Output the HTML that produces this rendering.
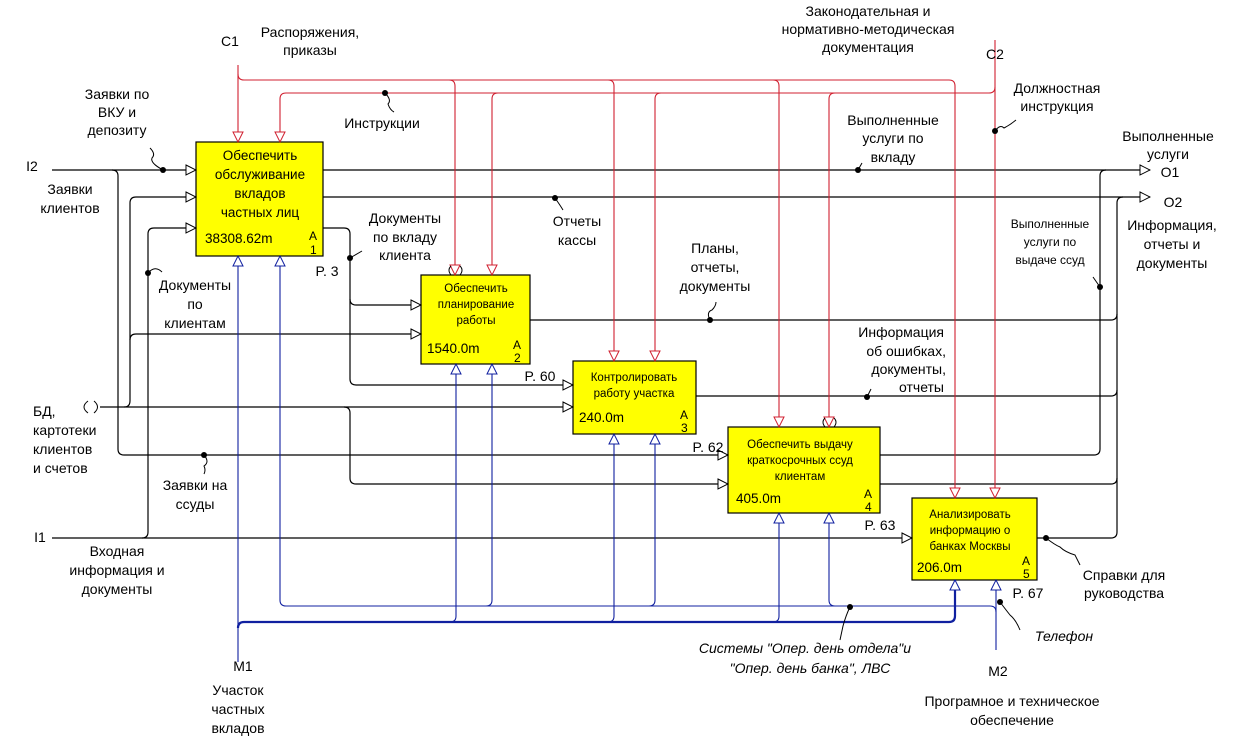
<!DOCTYPE html>
<html><head><meta charset="utf-8"><style>
html,body{margin:0;padding:0;background:#fff;}
svg{display:block;font-family:"Liberation Sans",Arial,sans-serif;}
.t{font-size:14px;fill:#000;}
.s{font-size:12px;fill:#000;}
.b{font-size:13.5px;fill:#000;}
.bs{font-size:11.5px;fill:#000;}
.i{font-size:14px;font-style:italic;fill:#000;}
</style></head><body>
<svg width="1234" height="744" viewBox="0 0 1234 744" xmlns="http://www.w3.org/2000/svg">
<defs>
<marker id="ak" markerWidth="12" markerHeight="12" refX="11" refY="6" orient="auto" markerUnits="userSpaceOnUse"><path d="M1,1 L11,6 L1,11 Z" fill="#fff" stroke="#000" stroke-width="1"/></marker>
<marker id="ar" markerWidth="12" markerHeight="12" refX="11" refY="6" orient="auto" markerUnits="userSpaceOnUse"><path d="M1,1 L11,6 L1,11 Z" fill="#fff" stroke="#d02030" stroke-width="1"/></marker>
<marker id="ab" markerWidth="12" markerHeight="12" refX="11" refY="6" orient="auto" markerUnits="userSpaceOnUse"><path d="M1,1 L11,6 L1,11 Z" fill="#fff" stroke="#1020a0" stroke-width="1"/></marker>
</defs>

<!-- boxes -->
<g fill="#ffff00" stroke="#000" stroke-width="1.2">
<rect x="196" y="142" width="127" height="114"/>
<rect x="421" y="275" width="109" height="89"/>
<rect x="573" y="361" width="123" height="73"/>
<rect x="728" y="427" width="152" height="86"/>
<rect x="912" y="498" width="125" height="82"/>
</g>

<!-- black connectors -->
<g fill="none" stroke="#000" stroke-width="1.2">
<path d="M52 170 H196" marker-end="url(#ak)"/>
<path d="M323 170 H1150" marker-end="url(#ak)"/>
<path d="M323 197 H1150" marker-end="url(#ak)"/>
<path d="M112 170 Q118 170 118 176 V449 Q118 455 124 455 H728" marker-end="url(#ak)"/>
<path d="M124 407 Q130 407 130 401 V203 Q130 197 136 197 H196" marker-end="url(#ak)"/>
<path d="M130 340 Q130 334 136 334 H421" marker-end="url(#ak)"/>
<path d="M142 538 Q148 538 148 532 V234 Q148 228 154 228 H196" marker-end="url(#ak)"/>
<path d="M100 407 H573" marker-end="url(#ak)"/>
<path d="M344 407 Q350 407 350 413 V478 Q350 484 356 484 H728" marker-end="url(#ak)"/>
<path d="M323 228 H344 Q350 228 350 234 V379 Q350 385 356 385 H573" marker-end="url(#ak)"/>
<path d="M350 299 Q350 305 356 305 H421" marker-end="url(#ak)"/>
<path d="M52 538 H912" marker-end="url(#ak)"/>
<path d="M530 320 H1111 Q1117 320 1117 314"/>
<path d="M696 396 H1111 Q1117 396 1117 390"/>
<path d="M880 455 H1094 Q1100 455 1100 449 V176 Q1100 170 1106 170"/>
<path d="M880 484 H1111 Q1117 484 1117 478"/>
<path d="M1037 538 H1111 Q1117 538 1117 532 V203 Q1117 197 1123 197"/>
</g>

<!-- red controls -->
<g fill="none" stroke="#d02030" stroke-width="1.1">
<path d="M238 65 V142" marker-end="url(#ar)"/>
<path d="M238 74 Q238 80 244 80 H949 Q955 80 955 86 V498" marker-end="url(#ar)"/>
<path d="M449 80 Q455 80 455 86 V275" marker-end="url(#ar)"/>
<path d="M608 80 Q614 80 614 86 V361" marker-end="url(#ar)"/>
<path d="M773 80 Q779 80 779 86 V427" marker-end="url(#ar)"/>
<path d="M995 40 V498" marker-end="url(#ar)"/>
<path d="M995 87 Q995 93 989 93 H286 Q280 93 280 99 V142" marker-end="url(#ar)"/>
<path d="M498 93 Q492 93 492 99 V275" marker-end="url(#ar)"/>
<path d="M661 93 Q655 93 655 99 V361" marker-end="url(#ar)"/>
<path d="M835 93 Q829 93 829 99 V427" marker-end="url(#ar)"/>
</g>

<!-- blue mechanisms -->
<g fill="none" stroke="#1020a0" stroke-width="1.1">
<path d="M238 662 V256" marker-end="url(#ab)"/>
<path d="M238 628 Q238 622 244 622 H949 Q955 622 955 616 V580" marker-end="url(#ab)" stroke-width="2.2"/>
<path d="M450 622 Q456 622 456 616 V364" marker-end="url(#ab)"/>
<path d="M608 622 Q614 622 614 616 V434" marker-end="url(#ab)"/>
<path d="M773 622 Q779 622 779 616 V513" marker-end="url(#ab)"/>
<path d="M996 650 V580" marker-end="url(#ab)"/>
<path d="M996 612 Q996 606 990 606 H286 Q280 606 280 600 V256" marker-end="url(#ab)"/>
<path d="M486 606 Q492 606 492 600 V364" marker-end="url(#ab)"/>
<path d="M649 606 Q655 606 655 600 V434" marker-end="url(#ab)"/>
<path d="M835 606 Q829 606 829 600 V513" marker-end="url(#ab)"/>
</g>

<!-- dots -->
<g fill="#000">
<circle cx="163" cy="170" r="3"/><circle cx="385" cy="93" r="3"/><circle cx="555" cy="198" r="3"/>
<circle cx="350" cy="258" r="3"/><circle cx="148" cy="273" r="3"/><circle cx="858" cy="170" r="3"/>
<circle cx="995" cy="131" r="3"/><circle cx="1100" cy="287" r="3"/><circle cx="710" cy="320" r="3"/>
<circle cx="867" cy="397" r="3"/><circle cx="204" cy="455" r="3"/><circle cx="1046" cy="538" r="3"/>
<circle cx="850" cy="607" r="3"/><circle cx="1000" cy="602" r="3"/>
</g>

<!-- leader squiggles -->
<g fill="none" stroke="#000" stroke-width="1">
<path d="M150 148 Q156 154 152 158 Q150 163 163 170"/>
<path d="M385 93 Q392 100 388 104 Q390 110 394 112"/>
<path d="M555 198 Q560 205 563 210"/>
<path d="M350 258 L362 251"/>
<path d="M148 273 Q155 265 162 272"/>
<path d="M858 170 L862 163"/>
<path d="M995 131 Q1000 124 1004 128 Q1010 125 1016 120"/>
<path d="M1100 287 L1093 277"/>
<path d="M710 320 Q706 312 712 310 Q716 306 716 302"/>
<path d="M867 397 L871 389"/>
<path d="M204 455 Q210 462 204 466 Q206 470 204 474"/>
<path d="M1046 538 Q1055 545 1060 547 Q1065 552 1075 555 L1080 565"/>
<path d="M850 607 Q846 615 843 626 L840 640"/>
<path d="M1000 602 Q1006 610 1010 615 Q1016 620 1020 630"/>
<path d="M88 401 Q80 407 88 413 M94 401 Q101 407 94 413" />
<path d="M451 266 Q447 270 451 275 M460 266 Q464 270 460 275"/>
<path d="M825 418 Q821 422 825 427 M834 418 Q838 422 834 427"/>
</g>

<!-- box texts -->
<g text-anchor="middle">
<text class="b" x="260" y="160">Обеспечить</text>
<text class="b" x="260" y="179">обслуживание</text>
<text class="b" x="260" y="198">вкладов</text>
<text class="b" x="260" y="217">частных лиц</text>
<text class="bs" x="476" y="292">Обеспечить</text>
<text class="bs" x="476" y="308">планирование</text>
<text class="bs" x="476" y="324">работы</text>
<text class="bs" x="634" y="381">Контролировать</text>
<text class="bs" x="634" y="397">работу участка</text>
<text class="bs" x="800" y="448">Обеспечить выдачу</text>
<text class="bs" x="800" y="464">краткосрочных ссуд</text>
<text class="bs" x="800" y="480">клиентам</text>
<text class="bs" x="970" y="518">Анализировать</text>
<text class="bs" x="970" y="534">информацию о</text>
<text class="bs" x="970" y="550">банках Москвы</text>
</g>
<text class="b" x="205" y="243">38308.62m</text>
<text class="s" x="309" y="240" font-size="10">A</text><text class="s" x="310" y="254" font-size="10">1</text>
<text class="b" x="427" y="353">1540.0m</text>
<text class="s" x="513" y="349" font-size="10">A</text><text class="s" x="514" y="362" font-size="10">2</text>
<text class="b" x="579" y="422">240.0m</text>
<text class="s" x="680" y="419" font-size="10">A</text><text class="s" x="681" y="432" font-size="10">3</text>
<text class="b" x="736" y="503">405.0m</text>
<text class="s" x="864" y="498" font-size="10">A</text><text class="s" x="865" y="511" font-size="10">4</text>
<text class="b" x="917" y="572">206.0m</text>
<text class="s" x="1022" y="565" font-size="10">A</text><text class="s" x="1023" y="578" font-size="10">5</text>

<!-- labels -->
<g class="t" text-anchor="middle">
<text x="230" y="46">C1</text>
<text x="310" y="37">Распоряжения,</text><text x="310" y="55">приказы</text>
<text x="868" y="16">Законодательная и</text>
<text x="868" y="34">нормативно-методическая</text>
<text x="868" y="52">документация</text>
<text x="995" y="59">C2</text>
<text x="1057" y="93">Должностная</text><text x="1057" y="111">инструкция</text>
<text x="117" y="99">Заявки по</text><text x="117" y="117">ВКУ и</text><text x="117" y="135">депозиту</text>
<text x="382" y="128">Инструкции</text>
<text x="32" y="171">I2</text>
<text x="70" y="194">Заявки</text><text x="70" y="213">клиентов</text>
<text x="893" y="125">Выполненные</text><text x="893" y="143">услуги по</text><text x="893" y="162">вкладу</text>
<text x="1168" y="141">Выполненные</text><text x="1168" y="159">услуги</text>
<text x="1170" y="177">O1</text><text x="1173" y="207">O2</text>
<text x="1172" y="230">Информация,</text><text x="1172" y="249">отчеты и</text><text x="1172" y="268">документы</text>
<text x="577" y="226">Отчеты</text><text x="577" y="245">кассы</text>
<text x="405" y="223">Документы</text><text x="405" y="242">по вкладу</text><text x="405" y="260">клиента</text>
<text x="327" y="276">P. 3</text>
<text x="195" y="290">Документы</text><text x="195" y="309">по</text><text x="195" y="328">клиентам</text>
<text x="715" y="253">Планы,</text><text x="715" y="272">отчеты,</text><text x="715" y="291">документы</text>
<text x="540" y="381">P. 60</text>
<text x="708" y="452">P. 62</text>
<text x="880" y="530">P. 63</text>
<text x="1028" y="598">P. 67</text>
<text x="195" y="490">Заявки на</text><text x="195" y="509">ссуды</text>
<text x="40" y="542">I1</text>
<text x="117" y="556">Входная</text><text x="117" y="575">информация и</text><text x="117" y="594">документы</text>
<text x="1124" y="580">Справки для</text><text x="1124" y="598">руководства</text>
<text x="243" y="671">M1</text>
<text x="238" y="695">Участок</text><text x="238" y="714">частных</text><text x="238" y="733">вкладов</text>
<text x="998" y="676">M2</text>
<text x="1012" y="706">Програмное и техническое</text><text x="1012" y="725">обеспечение</text>
</g>
<g class="s" text-anchor="middle">
<text x="1050" y="228">Выполненные</text><text x="1050" y="246">услуги по</text><text x="1050" y="264">выдаче ссуд</text>
</g>
<g class="t" text-anchor="end">
<text x="944" y="337">Информация</text><text x="946" y="356">об ошибках,</text><text x="946" y="374">документы,</text><text x="944" y="392">отчеты</text>
</g>
<g class="t">
<text x="33" y="416">БД,</text><text x="33" y="435">картотеки</text><text x="33" y="454">клиентов</text><text x="33" y="473">и счетов</text>
</g>
<g class="i" text-anchor="middle">
<text x="1064" y="641">Телефон</text>
<text x="805" y="653">Системы "Опер. день отдела"и</text>
<text x="810" y="673">"Опер. день банка", ЛВС</text>
</g>
</svg>
</body></html>
